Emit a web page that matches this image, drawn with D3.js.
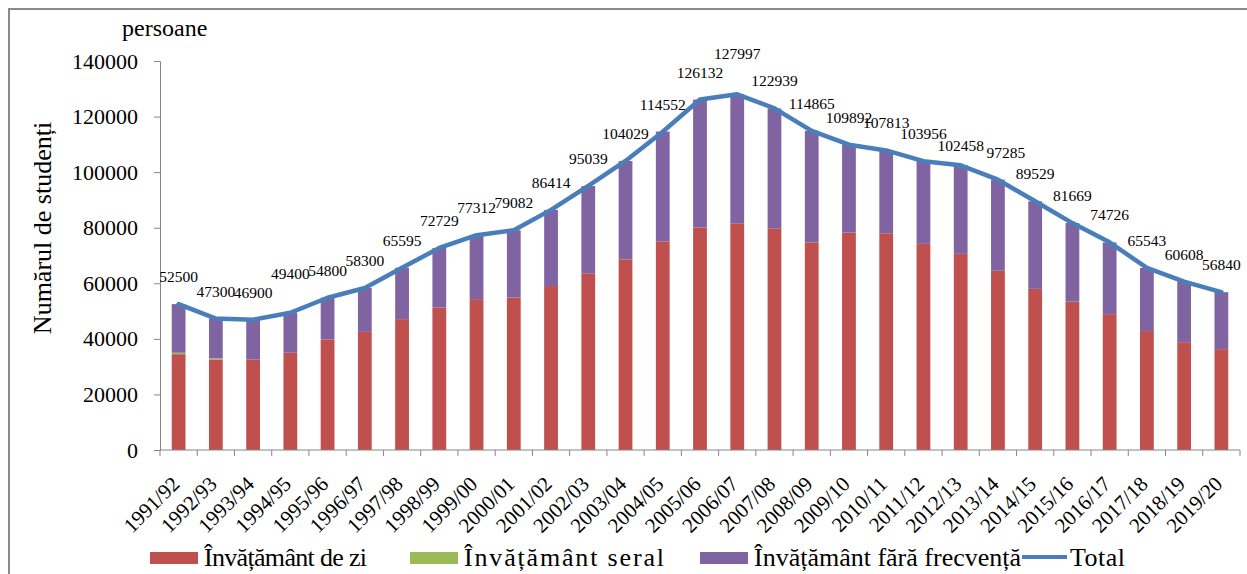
<!DOCTYPE html>
<html>
<head>
<meta charset="utf-8">
<script src="https://cdn.jsdelivr.net/npm/d3@7"></script>
</head>
<body style="margin:0; background:#fff">
<div id="vis"></div>
<script>
// === DATE ===
const years = ["1991/92", "1992/93", "1993/94", "1994/95", "1995/96", "1996/97", "1997/98", "1998/99",
  "1999/00", "2000/01", "2001/02", "2002/03", "2003/04", "2004/05", "2005/06", "2006/07", "2007/08",
  "2008/09", "2009/10", "2010/11", "2011/12", "2012/13", "2013/14", "2014/15", "2015/16", "2016/17",
  "2017/18", "2018/19", "2019/20"];

const deZi = [34500, 32600, 32500, 35000, 39800, 42500, 47100, 51300, 54300, 54900, 59000, 63600,
  68600, 75100, 80100, 81600, 79800, 74700, 78300, 78000, 74200, 70600, 64500, 58000, 53400, 48900,
  42800, 38800, 36300];

const seral = [500, 400, 0, 0, 0, 0, 0, 0, 0, 0, 0, 0, 0, 0, 0, 0, 0, 0, 0, 0, 0, 0, 0, 0, 0, 0, 0, 0, 0];

const faraFrecventa = [17500, 14300, 14400, 14400, 15000, 15800, 18500, 21400, 23000, 24200, 27400,
  31400, 35400, 39500, 46000, 46400, 43100, 40200, 31600, 29800, 29800, 31900, 32800, 31500, 28300,
  25800, 22700, 21800, 20500];

const total = [52500, 47300, 46900, 49400, 54800, 58300, 65595, 72729, 77312, 79082, 86414, 95039,
  104029, 114552, 126132, 127997, 122939, 114865, 109892, 107813, 103956, 102458, 97285, 89529, 81669,
  74726, 65543, 60608, 56840];

const yTicks = [0, 20000, 40000, 60000, 80000, 100000, 120000, 140000];

const seriesNames = ["Învățământ de zi", "Învățământ seral", "Învățământ fără frecvență", "Total"];
const colors = ["#C0504D", "#9BBB59", "#8064A2", "#4A7EBB"];

// etichete mutate manual in original
const labelNudge = { "1994/95": [0, -12], "2006/07": [0, -13], "2012/13": [0, 8], "2013/14": [8, 0] };

const FONT = "'Liberation Serif', 'Times New Roman', serif";

// === SETUP ===
const width = 1247, height = 574;
const svg = d3.select("#vis").append("svg")
  .attr("width", width)
  .attr("height", height);

svg.append("rect")
  .attr("x", 9).attr("y", 9)
  .attr("width", 1300).attr("height", 700)
  .attr("fill", "none")
  .attr("stroke", "#8a8a8a")
  .attr("stroke-width", 2);

const x = d3.scaleBand().domain(years).range([160, 1240]);
const y = d3.scaleLinear().domain([0, 140000]).range([450, 61]);
const barW = x.bandwidth() * 0.37;
const cx = d => x(d) + x.bandwidth() / 2;

// stive
const rows = years.map((yr, i) => ({ year: yr, zi: deZi[i], seral: seral[i], fara: faraFrecventa[i] }));
const stack = d3.stack().keys(["zi", "seral", "fara"])(rows);

svg.append("g")
  .selectAll("g")
  .data(stack)
  .join("g")
  .attr("fill", (d, i) => colors[i])
  .selectAll("rect")
  .data(d => d)
  .join("rect")
  .attr("x", d => cx(d.data.year) - barW / 2)
  .attr("y", d => y(d[1]))
  .attr("width", barW)
  .attr("height", d => y(d[0]) - y(d[1]));

// === AXE ===
const yAxis = svg.append("g")
  .attr("transform", "translate(160,0)")
  .call(d3.axisLeft(y).tickValues(yTicks).tickSize(6).tickPadding(16).tickFormat(d3.format("d")));
yAxis.selectAll("line, path").attr("stroke", "#868686");
yAxis.selectAll("text").attr("font-size", 22).attr("fill", "#000");

const xAxis = svg.append("g")
  .attr("transform", "translate(0,450)");
xAxis.append("line")
  .attr("x1", 160).attr("x2", 1240)
  .attr("stroke", "#868686");
xAxis.selectAll(".tk")
  .data(years.concat(["end"]))
  .join("line")
  .attr("class", "tk")
  .attr("x1", (d, i) => i < years.length ? x(d) : 1240)
  .attr("x2", (d, i) => i < years.length ? x(d) : 1240)
  .attr("y1", 0).attr("y2", 6)
  .attr("stroke", "#868686");
xAxis.selectAll("text")
  .data(years)
  .join("text")
  .attr("transform", d => `translate(${cx(d) - 3},${30}) rotate(-45)`)
  .attr("text-anchor", "end")
  .attr("dy", "0.35em")
  .attr("font-size", 21)
  .text(d => d);

// === LINIE TOTAL ===
const line = d3.line()
  .x((d, i) => cx(years[i]))
  .y(d => y(d));

svg.append("path")
  .datum(total)
  .attr("fill", "none")
  .attr("stroke", colors[3])
  .attr("stroke-width", 4.5)
  .attr("stroke-linejoin", "round")
  .attr("stroke-linecap", "round")
  .attr("d", line);

svg.append("g")
  .selectAll("text")
  .data(total)
  .join("text")
  .attr("x", (d, i) => cx(years[i]) + (labelNudge[years[i]] || [0, 0])[0])
  .attr("y", (d, i) => y(d) - 22 + (labelNudge[years[i]] || [0, 0])[1])
  .attr("text-anchor", "middle")
  .attr("font-size", 15.5)
  .text(d => d);

// === TITLURI ===
svg.append("text")
  .attr("x", 122).attr("y", 36)
  .attr("font-size", 24)
  .text("persoane");

svg.append("text")
  .attr("transform", "translate(51,228) rotate(-90)")
  .attr("text-anchor", "middle")
  .attr("font-size", 26)
  .text("Numărul de studenți");

// === LEGENDA ===
const legendX = [150, 410, 700, 1022];
const legendLen = [163, 200, 267, 55];
const legend = svg.append("g");
seriesNames.forEach((name, i) => {
  if (i < 3) {
    legend.append("rect")
      .attr("x", legendX[i]).attr("y", 552)
      .attr("width", 48).attr("height", 12)
      .attr("fill", colors[i]);
  } else {
    legend.append("line")
      .attr("x1", legendX[i]).attr("x2", legendX[i] + 45)
      .attr("y1", 557).attr("y2", 557)
      .attr("stroke", colors[i])
      .attr("stroke-width", 4);
  }
  legend.append("text")
    .attr("x", legendX[i] + (i < 3 ? 54 : 48))
    .attr("y", 566)
    .attr("font-size", 26)
    .attr("textLength", legendLen[i])
    .attr("lengthAdjust", "spacing")
    .text(name);
});

// font serif pe toate textele
svg.selectAll("text")
  .attr("font-family", FONT)
  .style("font-family", FONT, "important");
</script>
</body>
</html>
